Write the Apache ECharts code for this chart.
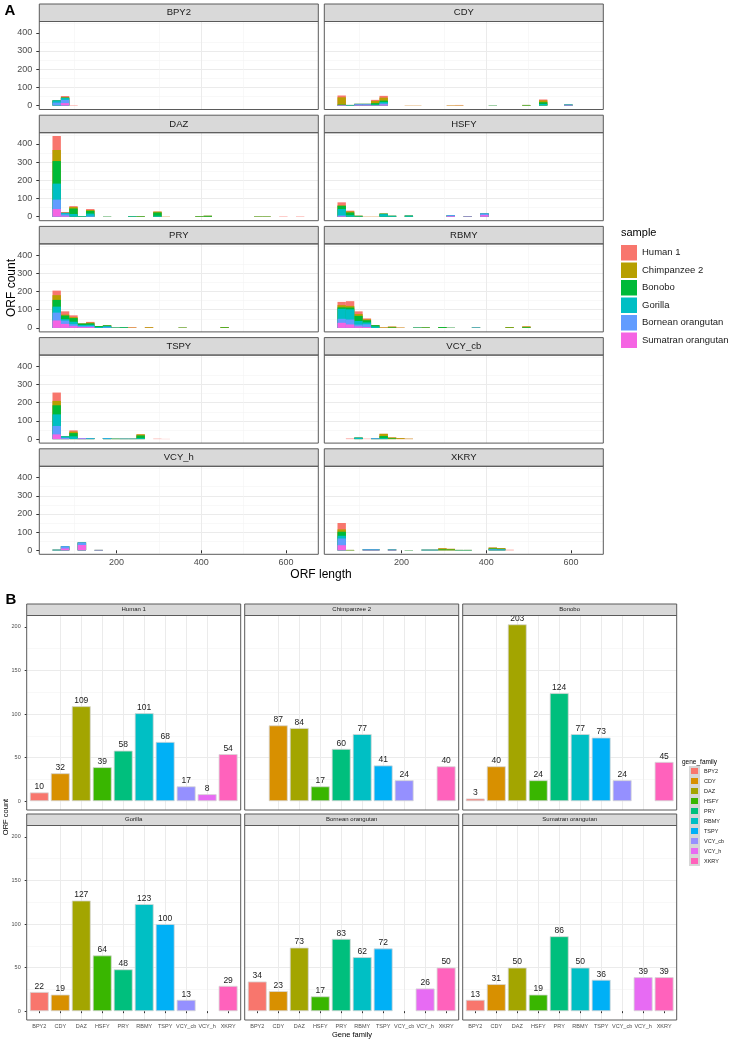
<!DOCTYPE html>
<html>
<head>
<meta charset="utf-8">
<script src="https://cdn.jsdelivr.net/npm/echarts@6/dist/echarts.min.js"></script>
<style>
html, body { margin: 0; padding: 0; background: #fff; }
#chart { width: 733px; height: 1042px; }
</style>
</head>
<body>
<div id="chart"></div>
<script>
// samples (panel A fill, panel B facets)
const samples = ['Human 1', 'Chimpanzee 2', 'Bonobo', 'Gorilla', 'Bornean orangutan', 'Sumatran orangutan'];
const sampleColors = ['#F8766D', '#B79F00', '#00BA38', '#00BFC4', '#619CFF', '#F564E3'];

// gene families (panel A facets, panel B categories)
const families = ['BPY2', 'CDY', 'DAZ', 'HSFY', 'PRY', 'RBMY', 'TSPY', 'VCY_cb', 'VCY_h', 'XKRY'];
const familyColors = ['#F8766D', '#D89000', '#A3A500', '#39B600', '#00BF7D', '#00BFC4', '#00B0F6', '#9590FF', '#E76BF3', '#FF62BC'];

// histogram bins of ORF length
const binCenters = [59, 78.8, 98.6, 118.4, 138.2, 158, 177.8, 197.6, 217.4, 237.2,
    257, 276.8, 296.6, 316.4, 336.2, 356, 375.8, 395.6, 415.4, 435.2,
    455, 474.8, 494.6, 514.4, 534.2, 554, 573.8, 593.6, 613.4, 633.2];
const binWidth = 19.8;

const lengthTicks = [200, 400, 600];
const histCountTicks = [0, 100, 200, 300, 400];
const orfCountTicks = [0, 50, 100, 150, 200];

// histogram counts: [bin, Human 1, Chimpanzee 2, Bonobo, Gorilla, Bornean, Sumatran]
const histBPY2 = [
    [0, 0, 0, 0, 12, 16, 0],
    [1, 8, 0, 3, 10, 18, 13],
    [2, 2, 0, 0, 0, 0, 0]
];
const histCDY = [
    [0, 10, 40, 2, 0, 0, 3],
    [1, 0, 0, 0, 2, 1, 0],
    [2, 0, 0, 0, 3, 2, 4],
    [3, 0, 0, 0, 3, 2, 4],
    [4, 6, 12, 8, 3, 0, 2],
    [5, 10, 16, 8, 8, 6, 5],
    [8, 0, 1, 0, 0, 0, 0],
    [9, 0, 1, 0, 0, 0, 0],
    [13, 0, 2, 0, 0, 0, 0],
    [14, 1, 2, 0, 0, 0, 0],
    [18, 0, 0, 0, 1, 0, 0],
    [22, 0, 0, 3, 0, 0, 0],
    [24, 5, 10, 10, 8, 0, 0],
    [27, 0, 0, 0, 0, 3, 2]
];
const histDAZ = [
    [0, 77, 61, 124, 88, 52, 42],
    [1, 5, 0, 0, 8, 8, 5],
    [2, 5, 8, 30, 15, 0, 0],
    [3, 0, 0, 0, 3, 0, 0],
    [4, 5, 5, 15, 12, 5, 0],
    [6, 0, 0, 0, 1, 0, 0],
    [9, 0, 0, 0, 3, 0, 0],
    [10, 0, 0, 3, 0, 0, 0],
    [12, 0, 5, 18, 5, 0, 0],
    [13, 0, 1, 0, 0, 0, 0],
    [17, 0, 0, 3, 0, 0, 0],
    [18, 0, 0, 5, 0, 0, 0],
    [24, 0, 0, 2, 0, 0, 0],
    [25, 0, 0, 2, 0, 0, 0],
    [27, 2, 0, 0, 0, 0, 0],
    [29, 2, 0, 0, 0, 0, 0]
];
const histHSFY = [
    [0, 17, 2, 18, 35, 4, 3],
    [1, 4, 6, 15, 8, 0, 0],
    [2, 0, 0, 3, 2, 0, 0],
    [3, 0, 1, 0, 0, 0, 0],
    [4, 0, 1, 0, 0, 0, 0],
    [5, 0, 0, 3, 14, 0, 0],
    [6, 0, 0, 0, 5, 0, 0],
    [8, 0, 0, 0, 6, 0, 0],
    [13, 0, 0, 0, 0, 4, 4],
    [15, 1, 0, 0, 0, 0, 2],
    [17, 0, 0, 0, 0, 9, 9]
];
const histPRY = [
    [0, 25, 26, 37, 33, 43, 41],
    [1, 18, 5, 20, 8, 18, 22],
    [2, 10, 5, 20, 14, 10, 10],
    [3, 0, 0, 8, 6, 5, 5],
    [4, 4, 4, 8, 6, 6, 5],
    [5, 0, 0, 5, 5, 0, 0],
    [6, 0, 0, 4, 6, 4, 0],
    [7, 0, 0, 0, 2, 0, 0],
    [8, 0, 0, 2, 2, 0, 0],
    [9, 2, 2, 0, 0, 0, 0],
    [11, 0, 4, 0, 0, 0, 0],
    [15, 0, 0, 2, 0, 0, 0],
    [20, 0, 2, 3, 0, 0, 0]
];
const histRBMY = [
    [0, 18, 12, 8, 55, 22, 28],
    [1, 26, 9, 10, 56, 27, 19],
    [2, 15, 10, 28, 20, 10, 8],
    [3, 5, 5, 12, 10, 15, 5],
    [4, 0, 0, 7, 8, 0, 0],
    [5, 0, 3, 0, 0, 0, 0],
    [6, 0, 4, 3, 0, 0, 0],
    [7, 0, 2, 0, 0, 0, 0],
    [9, 0, 0, 0, 2, 0, 0],
    [10, 0, 0, 3, 0, 0, 0],
    [12, 0, 0, 5, 0, 0, 0],
    [13, 0, 0, 0, 1, 0, 0],
    [16, 0, 0, 0, 0, 2, 0],
    [20, 0, 3, 2, 0, 0, 0],
    [22, 0, 4, 4, 0, 0, 0]
];
const histTSPY = [
    [0, 46, 24, 50, 64, 46, 26],
    [1, 0, 0, 0, 8, 5, 2],
    [2, 7, 8, 18, 15, 0, 0],
    [3, 0, 0, 0, 0, 3, 3],
    [4, 0, 0, 0, 2, 3, 0],
    [6, 0, 0, 0, 3, 3, 0],
    [7, 0, 0, 0, 2, 0, 0],
    [8, 0, 0, 0, 0, 2, 0],
    [9, 0, 0, 0, 0, 2, 0],
    [10, 0, 6, 15, 5, 0, 0],
    [12, 2, 0, 0, 0, 0, 0],
    [13, 1, 0, 0, 0, 0, 0]
];
const histVCYcb = [
    [1, 3, 0, 0, 0, 0, 0],
    [2, 0, 0, 0, 8, 0, 0],
    [3, 2, 0, 0, 0, 0, 0],
    [4, 2, 0, 0, 0, 4, 0],
    [5, 0, 12, 12, 5, 0, 0],
    [6, 0, 5, 4, 0, 0, 0],
    [7, 0, 5, 0, 0, 0, 0],
    [8, 0, 2, 0, 0, 0, 0]
];
const histVCYh = [
    [0, 0, 0, 0, 0, 3, 0],
    [1, 0, 0, 0, 0, 12, 10],
    [3, 0, 0, 0, 0, 14, 29],
    [5, 0, 0, 0, 0, 0, 2]
];
const histXKRY = [
    [0, 35, 13, 22, 15, 37, 28],
    [1, 0, 0, 2, 0, 0, 0],
    [3, 0, 0, 0, 0, 3, 2],
    [4, 0, 0, 0, 0, 3, 2],
    [6, 0, 0, 0, 0, 2, 2],
    [8, 0, 0, 0, 1, 0, 0],
    [10, 0, 0, 0, 0, 3, 0],
    [11, 0, 0, 0, 0, 3, 0],
    [12, 0, 6, 5, 0, 0, 0],
    [13, 0, 4, 4, 0, 0, 0],
    [14, 0, 0, 0, 2, 0, 0],
    [15, 0, 0, 0, 2, 0, 0],
    [18, 0, 5, 5, 0, 5, 0],
    [19, 0, 4, 4, 0, 4, 0],
    [20, 3, 0, 0, 0, 0, 0]
];
const histTables = [histBPY2, histCDY, histDAZ, histHSFY, histPRY, histRBMY, histTSPY, histVCYcb, histVCYh, histXKRY];

// panel B: ORF count per gene family (null = no bar)
const human1 = [10, 32, 109, 39, 58, 101, 68, 17, 8, 54];
const chimpanzee2 = [null, 87, 84, 17, 60, 77, 41, 24, null, 40];
const bonobo = [3, 40, 203, 24, 124, 77, 73, 24, null, 45];
const gorilla = [22, 19, 127, 64, 48, 123, 100, 13, null, 29];
const borneanOrangutan = [34, 23, 73, 17, 83, 62, 72, null, 26, 50];
const sumatranOrangutan = [13, 31, 50, 19, 86, 50, 36, null, 39, 39];
const familyCounts = [human1, chimpanzee2, bonobo, gorilla, borneanOrangutan, sumatranOrangutan];

const FONT = '"Liberation Sans", Arial, Helvetica, sans-serif';
const grids = [], xAxes = [], yAxes = [], series = [], graphics = [];

function addText(text, x, y, size, opts) {
    opts = opts || {};
    graphics.push({
        type: 'text', x: x, y: y, rotation: opts.rotation || 0, z: 60, silent: true,
        style: {
            text: text, fontSize: size, fontFamily: FONT, fontWeight: opts.bold ? 'bold' : 'normal',
            fill: opts.color || '#000',
            align: opts.align || 'center', verticalAlign: 'middle',
            textAlign: opts.align || 'center', textVerticalAlign: 'middle'
        }
    });
}
function addStrip(x, y, w, h, text, size) {
    graphics.push({ type: 'rect', z: 50, silent: true, shape: { x: x, y: y, width: w, height: h },
        style: { fill: '#d9d9d9', stroke: '#5a5a5a', lineWidth: 1 } });
    addText(text, x + w / 2, y + h / 2, size, { color: '#1a1a1a' });
}
function addBorder(x, y, w, h) {
    graphics.push({ type: 'rect', z: 50, silent: true, shape: { x: x, y: y, width: w, height: h },
        style: { fill: 'none', stroke: '#5a5a5a', lineWidth: 1 } });
}
const gridLine = { show: true, showMinLine: false, showMaxLine: false, lineStyle: { color: '#ebebeb', width: 1 } };
const minorLine = { show: true, lineStyle: { color: '#f3f3f3', width: 0.6 } };

// ---- panel A: stacked histograms ----
const aCols = [39.3, 324.3], aW = 279;
const aRows = [4, 115.2, 226.4, 337.6, 448.8], aStripH = 17.5, aH = 88;
const aXMin = 18, aXMax = 676, aYMin = -22, aYMax = 462;
const aBarW = binWidth * aW / (aXMax - aXMin);

families.forEach((fam, i) => {
    const r = Math.floor(i / 2), c = i % 2;
    const left = aCols[c], top = aRows[r] + aStripH;
    const gi = grids.length;
    grids.push({ left: left, top: top, width: aW, height: aH });
    xAxes.push({
        gridIndex: gi, type: 'value', min: aXMin, max: aXMax, splitNumber: 3,
        axisLine: { show: false },
        axisTick: { show: r === 4, length: 3, customValues: lengthTicks, lineStyle: { color: '#333' } },
        axisLabel: { show: r === 4, customValues: lengthTicks, margin: 4, fontSize: 9, color: '#4d4d4d', fontFamily: FONT },
        splitLine: gridLine, minorTick: { show: false, splitNumber: 2 }, minorSplitLine: minorLine
    });
    yAxes.push({
        gridIndex: gi, type: 'value', min: aYMin, max: aYMax, splitNumber: 5,
        axisLine: { show: false },
        axisTick: { show: c === 0, length: 3, customValues: histCountTicks, lineStyle: { color: '#333' } },
        axisLabel: { show: c === 0, customValues: histCountTicks, margin: 7, fontSize: 9, color: '#4d4d4d', fontFamily: FONT },
        splitLine: gridLine, minorTick: { show: false, splitNumber: 2 }, minorSplitLine: minorLine
    });
    // stacked look: each sample's bar reaches the running total from the bottom (Sumatran) up to it,
    // and later (lower) samples are painted over earlier ones
    const table = histTables[i];
    samples.forEach((name, s) => {
        series.push({
            type: 'bar', name: name, xAxisIndex: gi, yAxisIndex: gi,
            barWidth: aBarW, barGap: '-100%', z: 2 + s,
            itemStyle: { color: sampleColors[s] },
            data: table.map(row => {
                let top = 0;
                for (let k = s; k < samples.length; k++) top += row[k + 1];
                return [binCenters[row[0]], top];
            })
        });
    });
    addStrip(left, aRows[r], aW, aStripH, fam, 9.5);
    addBorder(left, top, aW, aH);
});

addText('A', 10, 11, 15, { bold: true });
addText('ORF count', 11.5, 288, 12, { rotation: Math.PI / 2 });
addText('ORF length', 321, 575, 12);
addText('sample', 621, 233, 11, { align: 'left' });

// ---- panel B: ORF count per gene family ----
const bCols = [26.7, 244.7, 462.7], bW = 214;
const bRows = [604, 814], bStripH = 11.5, bH = 194.5;
const bXMin = 0.4, bXMax = 10.6, bYMin = -10.15, bYMax = 213.15;
const bBarW = 0.9 * bW / (bXMax - bXMin);
const familyPos = families.map((f, k) => k + 1);

familyCounts.forEach((vals, j) => {
    const r = Math.floor(j / 3), c = j % 3;
    const left = bCols[c], top = bRows[r] + bStripH;
    const gi = grids.length;
    grids.push({ left: left, top: top, width: bW, height: bH });
    xAxes.push({
        gridIndex: gi, type: 'value', min: bXMin, max: bXMax, splitNumber: 10,
        axisLine: { show: false },
        axisTick: { show: r === 1, length: 2, customValues: familyPos, lineStyle: { color: '#333' } },
        axisLabel: { show: r === 1, customValues: familyPos, margin: 3, fontSize: 5.5, color: '#4d4d4d', fontFamily: FONT,
            formatter: v => families[Math.round(v) - 1] },
        splitLine: gridLine
    });
    yAxes.push({
        gridIndex: gi, type: 'value', min: bYMin, max: bYMax, splitNumber: 5,
        axisLine: { show: false },
        axisTick: { show: c === 0, length: 2, customValues: orfCountTicks, lineStyle: { color: '#333' } },
        axisLabel: { show: c === 0, customValues: orfCountTicks, margin: 6, fontSize: 5.5, color: '#4d4d4d', fontFamily: FONT },
        splitLine: gridLine, minorTick: { show: false, splitNumber: 2 }, minorSplitLine: minorLine
    });
    families.forEach((fam, k) => {
        const v = vals[k];
        series.push({
            type: 'bar', name: fam, xAxisIndex: gi, yAxisIndex: gi,
            barWidth: bBarW, barGap: '-100%',
            itemStyle: { color: familyColors[k], borderColor: '#d6d6d6', borderWidth: 0.8 },
            label: { show: true, position: 'top', distance: 1, fontSize: 8.5, color: '#1a1a1a', fontFamily: FONT,
                formatter: p => p.value[1] },
            data: v == null ? [] : [[familyPos[k], v]]
        });
    });
    addStrip(left, bRows[r], bW, bStripH, samples[j], 6);
    addBorder(left, top, bW, bH);
});

addText('B', 11, 600, 15, { bold: true });
addText('ORF count', 6, 817, 7.5, { rotation: Math.PI / 2 });
addText('Gene family', 352, 1035, 7.5);
addText('gene_family', 682, 762, 6.5, { align: 'left' });

const chart = echarts.init(document.getElementById('chart'), null, { renderer: 'canvas' });
chart.setOption({
    animation: false,
    backgroundColor: '#fff',
    textStyle: { fontFamily: FONT },
    grid: grids,
    xAxis: xAxes,
    yAxis: yAxes,
    legend: [
        {
            data: samples, orient: 'vertical', left: 621, top: 245, padding: 0,
            itemWidth: 16, itemHeight: 15.5, itemGap: 2, icon: 'rect', selectedMode: false,
            textStyle: { fontSize: 9.5, color: '#1a1a1a', fontFamily: FONT }
        },
        {
            data: families, orient: 'vertical', left: 689, top: 766, padding: 0,
            itemWidth: 9, itemHeight: 8, itemGap: 0, icon: 'rect', selectedMode: false,
            textStyle: { fontSize: 5.5, color: '#1a1a1a', fontFamily: FONT }
        }
    ],
    graphic: { elements: graphics },
    series: series
});
</script>
</body>
</html>
